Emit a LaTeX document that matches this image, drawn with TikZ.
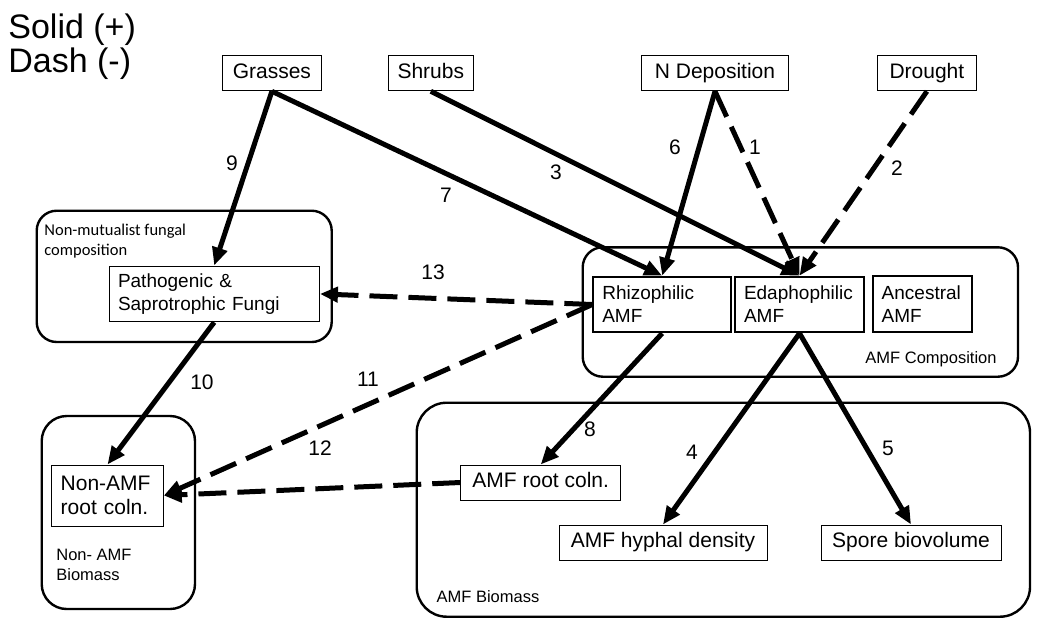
\documentclass[tikz,border=0pt]{standalone}
\usepackage{fontspec}
\setmainfont{Liberation Sans}
\newfontfamily\carlito{Carlito}
\usetikzlibrary{arrows.meta}

\def \boxFont {\fontsize{10.5}{12}\selectfont}
\def \innerFont {\fontsize{9.5}{11.5}\selectfont}
\def \tagFont {\fontsize{8.25}{10}\selectfont}
\def \arrowW {2.5pt}

\begin{document}
\begin{tikzpicture}[x=0.5pt, y=-0.5pt,
      varbox/.style={draw, line width=0.5pt, inner sep=0pt, font=\boxFont, text height=7.6pt, text depth=2.2pt, minimum height=17.9pt},
      grpbox/.style={draw, line width=1pt, inner xsep=4.5pt, inner ysep=0pt, font=\innerFont, align=left},
      setbox/.style={draw, line width=1.2pt},
      numlbl/.style={inner sep=0pt, font=\boxFont},
      taglbl/.style={inner sep=0pt, font=\tagFont, align=left},
      plusarr/.style={line width=\arrowW, -{Triangle[length=9pt, width=7.5pt]}},
      minusarr/.style={plusarr, dash pattern=on 14pt off 5.5pt}]
   \useasboundingbox (0,0) rectangle (1043,618);

   % legend
   \node[anchor=base west, inner sep=0pt, font=\fontsize{17}{20}\selectfont] (solid) at (8,38) {Solid (+)};
   \node[anchor=base west, inner sep=0pt, font=\fontsize{17}{20}\selectfont] (dash) at (8,72) {Dash (-)};

   % groups
   \draw[setbox, rounded corners=10pt] (36.7,210.7) rectangle (331.7,342);
   \draw[setbox, rounded corners=10pt] (582.7,247.3) rectangle (1018,376.7);
   \draw[setbox, rounded corners=12.5pt] (41.7,416) rectangle (195,609);
   \draw[setbox, rounded corners=15pt] (416.7,402.7) rectangle (1030,616.7);
   \node[taglbl, anchor=west, font=\carlito\tagFont] (nonmut) at (44,241) {Non-mutualist fungal\\composition};
   \node[taglbl] (amfcomp) at (931,359) {AMF Composition};
   \node[taglbl, anchor=west] (nonamfbio) at (56,565) {Non- AMF\\Biomass};
   \node[taglbl] (amfbio) at (488,596.7) {AMF Biomass};

   % drivers
   \node[varbox, minimum width=49.2pt] (grasses) at (271.9,72.9) {Grasses};
   \node[varbox, minimum width=42.5pt] (shrubs) at (430.8,72.9) {Shrubs};
   \node[varbox, minimum width=73.3pt] (ndep) at (715,72.9) {N Deposition};
   \node[varbox, minimum width=49.2pt] (drought) at (926.9,72.9) {Drought};

   % fungi
   \node[grpbox, line width=0.5pt, text width=96.2pt, minimum height=27.9pt] (patho) at (214.2,293.9) {Pathogenic \&\\Saprotrophic Fungi};
   \node[grpbox, text width=59.9pt, minimum height=27.8pt] (rhizo) at (662.2,304.5) {Rhizophilic\\AMF};
   \node[grpbox, text width=55.5pt, minimum height=27.8pt] (edapho) at (799.5,304.5) {Edaphophilic\\AMF};
   \node[grpbox, text width=40.8pt, minimum height=28pt] (ancest) at (922.5,303.7) {Ancestral\\AMF};

   % biomass
   \node[grpbox, line width=0.5pt, font=\boxFont, text width=46.8pt, minimum height=30.5pt] (nonamfroot) at (107.5,495.5) {Non-AMF\\root coln.};
   \node[varbox, minimum width=80pt, minimum height=17.5pt] (amfroot) at (540.7,482.5) {AMF root coln.};
   \node[varbox, minimum width=104pt, minimum height=17.5pt] (hyphal) at (663,542.5) {AMF hyphal density};
   \node[varbox, minimum width=90pt, minimum height=17.5pt] (spore) at (911,542.5) {Spore biovolume};

   % paths
   \draw[minusarr] (ndep.south) -- (edapho.north);
   \draw[minusarr] (drought.south) -- (edapho.north);
   \draw[plusarr] (shrubs.south) -- (edapho.north);
   \draw[plusarr] (edapho.south) -- (hyphal.north);
   \draw[plusarr] (edapho.south) -- (spore.north);
   \draw[plusarr] (ndep.south) -- (rhizo.north);
   \draw[plusarr] (grasses.south) -- (rhizo.north);
   \draw[plusarr] (rhizo.south) -- (amfroot.north);
   \draw[plusarr] (grasses.south) -- (patho.north);
   \draw[plusarr] (patho.south) -- (nonamfroot.north);
   \draw[minusarr] (rhizo.west) -- (nonamfroot.east);
   \draw[minusarr] (amfroot.west) -- (nonamfroot.east);
   \draw[minusarr] (rhizo.west) -- (patho.east);

   \node[numlbl] (l1) at (755,147) {1};
   \node[numlbl] (l2) at (897,168) {2};
   \node[numlbl] (l3) at (556,172) {3};
   \node[numlbl] (l4) at (692,452) {4};
   \node[numlbl] (l5) at (888,448) {5};
   \node[numlbl] (l6) at (675,147) {6};
   \node[numlbl] (l7) at (446,195) {7};
   \node[numlbl] (l8) at (590,429) {8};
   \node[numlbl] (l9) at (232,163) {9};
   \node[numlbl] (l10) at (202,382) {10};
   \node[numlbl] (l11) at (368,379) {11};
   \node[numlbl] (l12) at (320,448) {12};
   \node[numlbl] (l13) at (433,272) {13};
\end{tikzpicture}
\end{document}
